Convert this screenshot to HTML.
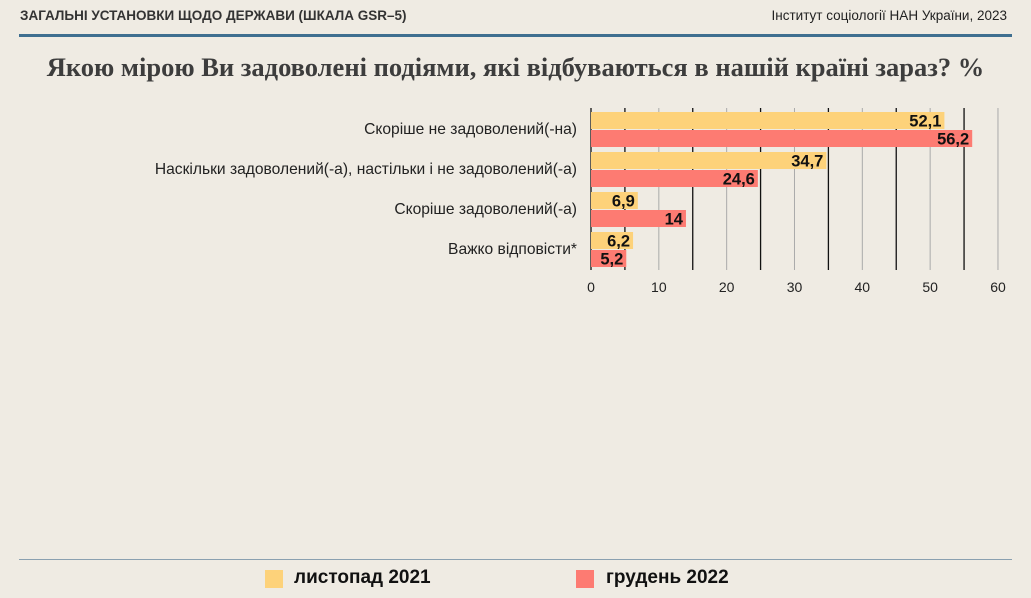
<!DOCTYPE html>
<html><head><meta charset="utf-8"><style>
body{margin:0;width:1031px;height:598px;background:#efebe3;overflow:hidden;font-family:"Liberation Sans","DejaVu Sans",sans-serif;position:relative}
.a{position:absolute}
</style></head><body>
<div class="a" style="left:20px;top:8px;font-size:13.5px;font-weight:bold;color:#333">ЗАГАЛЬНІ УСТАНОВКИ ЩОДО ДЕРЖАВИ (ШКАЛА GSR–5)</div>
<div class="a" style="right:24px;top:8px;font-size:13.5px;color:#222">Інститут соціології НАН України, 2023</div>
<div class="a" style="left:19px;top:34px;width:993px;height:3px;background:#3f6f90"></div>
<div class="a" style="left:0;width:1031px;top:52px;text-align:center;font-family:'Liberation Serif',serif;font-weight:bold;font-size:26.5px;color:#3d3d3d">Якою мірою Ви задоволені подіями, які відбуваються в нашій країні зараз? %</div>
<svg class="a" style="left:0;top:0" width="1031" height="598">
<g id="g"></g></svg>
<div class="a" style="left:19px;top:559px;width:993px;height:1px;background:#8aa0b0"></div>
<div class="a" style="left:265px;top:570px;width:18px;height:18px;background:#fdd27a"></div>
<div class="a" style="left:294px;top:567px;font-size:19px;font-weight:bold;color:#111">листопад 2021</div>
<div class="a" style="left:576px;top:570px;width:18px;height:18px;background:#fd7b72"></div>
<div class="a" style="left:606px;top:567px;font-size:19px;font-weight:bold;color:#111">грудень 2022</div>
<script>
const categories=["Скоріше не задоволений(-на)","Наскільки задоволений(-а), настільки і не задоволений(-а)","Скоріше задоволений(-а)","Важко відповісти*"];
const s2021=[52.1,34.7,6.9,6.2];
const s2022=[56.2,24.6,14,5.2];
const labels2021=["52,1","34,7","6,9","6,2"];
const labels2022=["56,2","24,6","14","5,2"];
const ticks=[0,10,20,30,40,50,60];
const NS="http://www.w3.org/2000/svg",g=document.getElementById('g');
const x=v=>591+v*6.783;
const y0=112,pitch=40,bh=17;
function mk(t,a){const e=document.createElementNS(NS,t);for(const k in a)e.setAttribute(k,a[k]);g.appendChild(e);return e;}
for(let v=5;v<=60;v+=5){const l=mk('line',{x1:x(v),x2:x(v),y1:108,y2:270,stroke:(v%10==5)?'#111':'#aaa','stroke-width':v%10==5?1.3:1});
}
const ax=mk('line',{x1:x(0),x2:x(0),y1:108,y2:270,stroke:'#111','stroke-width':1.3});

ticks.forEach(t=>{const e=mk('text',{x:x(t),y:292,'text-anchor':'middle','font-size':14,fill:'#222'});e.textContent=t;
});
categories.forEach((c,i)=>{const yy=y0+i*pitch;
const t=mk('text',{x:577,y:yy+bh+5,'text-anchor':'end','font-size':15.6,fill:'#222'});t.textContent=c;

[[s2021,labels2021,'#fdd27a',0],[s2022,labels2022,'#fd7b72',1]].forEach(([s,lb,col,k])=>{
const by=yy+k*(bh+1);
const r=mk('rect',{x:x(0),y:by,width:x(s[i])-x(0),height:bh,fill:col});

const tx=mk('text',{x:x(s[i])-3,y:by+14.5,'text-anchor':'end','font-size':16.5,'font-weight':'bold',fill:'#111'});tx.textContent=lb[i];
});
});
</script>
</body></html>
